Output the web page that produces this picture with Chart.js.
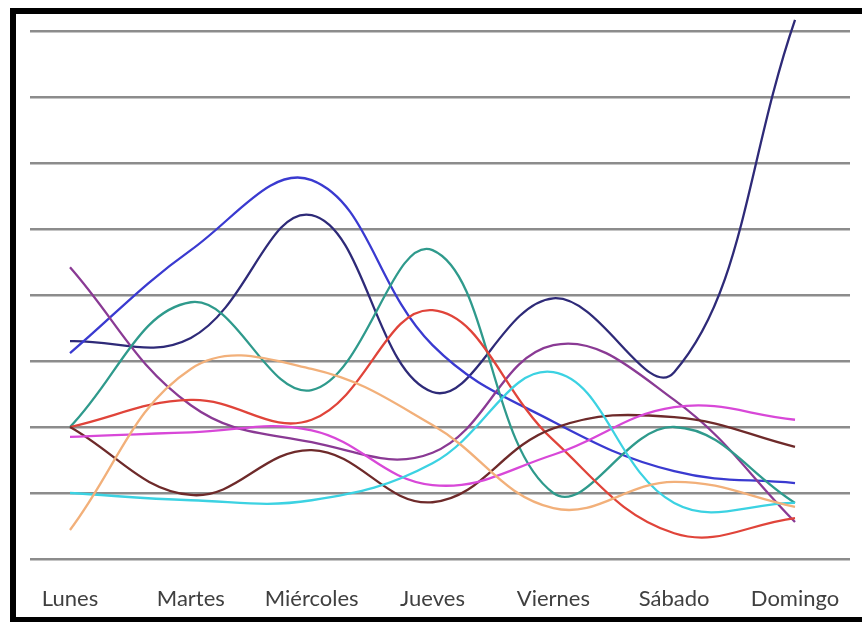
<!DOCTYPE html>
<html>
<head>
<meta charset="utf-8">
<script src="https://cdn.jsdelivr.net/npm/chart.js@4/dist/chart.umd.min.js"></script>
<style>
  html, body { margin: 0; padding: 0; background: #ffffff; overflow: hidden; }
  #wrap { position: relative; width: 862px; height: 622px; }
  #frame {
    position: absolute; left: 10px; top: 8px; width: 880px; height: 603px;
    border: 6px solid #000; pointer-events: none;
  }
  canvas { position: absolute; left: 0; top: 0; }
</style>
</head>
<body>
<div id="wrap">
  <canvas id="c" width="862" height="622"></canvas>
  <div id="frame"></div>
</div>
<script>
// Days of the week along the horizontal axis
const days = ['Lunes', 'Martes', 'Miércoles', 'Jueves', 'Viernes', 'Sábado', 'Domingo'];

// One series per line, values per day
const serieAzul    = [3.12, 4.68, 5.74, 3.24, 2.08, 1.33, 1.15];
const serieMarino  = [3.30, 3.35, 5.21, 2.53, 3.95, 2.83, 8.17];
const serieVerde   = [2.00, 3.89, 2.56, 4.68, 1.00, 2.00, 0.85];
const serieRoja    = [2.00, 2.41, 2.11, 3.77, 1.80, 0.39, 0.62];
const serieNaranja = [0.44, 2.88, 2.88, 2.03, 0.77, 1.17, 0.79];
const serieMorada  = [4.42, 2.33, 1.77, 1.61, 3.24, 2.41, 0.56];
const serieRosa    = [1.85, 1.92, 1.95, 1.12, 1.58, 2.30, 2.11];
const serieMarron  = [2.00, 0.97, 1.65, 0.86, 1.98, 2.15, 1.70];
const serieCian    = [1.00, 0.89, 0.89, 1.45, 2.83, 0.85, 0.85];

const series = [
  { data: serieNaranja, color: '#f2b07a' },
  { data: serieCian,    color: '#3cd2e2' },
  { data: serieRosa,    color: '#d848d8' },
  { data: serieMarron,  color: '#6e2a2a' },
  { data: serieRoja,    color: '#e0443a' },
  { data: serieVerde,   color: '#2f9a8c' },
  { data: serieMorada,  color: '#8a3a94' },
  { data: serieAzul,    color: '#3a3ad0' },
  { data: serieMarino,  color: '#2e2a78' }
];

new Chart(document.getElementById('c'), {
  type: 'line',
  data: {
    datasets: series.map(s => ({
      data: s.data.map((v, i) => ({ x: i, y: v })),
      borderColor: s.color,
      borderWidth: 2.3,
      pointRadius: 0,
      tension: 0.4,
      fill: false,
      clip: false
    }))
  },
  options: {
    responsive: false,
    animation: false,
    events: [],
    layout: { padding: { left: 30, right: 12, top: 31, bottom: 11 } },
    plugins: { legend: { display: false }, tooltip: { enabled: false } },
    scales: {
      x: {
        type: 'linear',
        min: -0.331,
        max: 6.455,
        afterBuildTicks: axis => { axis.ticks = days.map((d, i) => ({ value: i })); },
        afterFit: axis => {
          axis.height = 52;
          axis.paddingLeft = 0;
          axis.paddingRight = 0;
        },
        grid: { display: false, drawTicks: false },
        border: { display: false },
        ticks: {
          autoSkip: false,
          maxRotation: 0,
          padding: 27,
          color: '#404040',
          font: { family: 'Lato', size: 22 },
          callback: v => days[v]
        }
      },
      y: {
        min: 0,
        max: 8,
        ticks: { display: false, stepSize: 1 },
        grid: { color: '#8c8c8c', lineWidth: 2.5, drawTicks: false },
        border: { display: false }
      }
    }
  }
});
</script>
</body>
</html>
